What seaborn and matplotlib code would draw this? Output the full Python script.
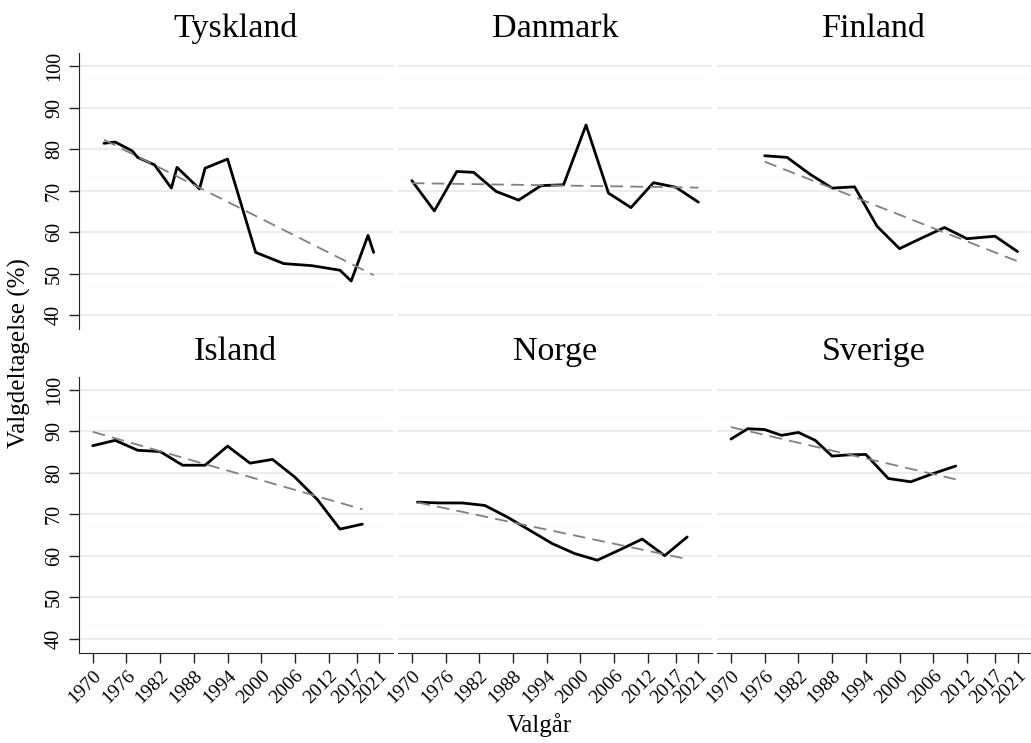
import numpy as np
import pandas as pd
import seaborn as sns
import matplotlib.pyplot as plt

sns.set_style("white")
plt.rcParams["font.family"] = ["Liberation Serif", "DejaVu Serif"]
plt.rcParams["text.color"] = "black"
plt.rcParams["xtick.labelcolor"] = "black"
plt.rcParams["ytick.labelcolor"] = "black"

lande = ["Tyskland", "Danmark", "Finland", "Island", "Norge", "Sverige"]

# valgdeltagelse i procent
tyskland_aar = [1972, 1974, 1977, 1978, 1981, 1984, 1985, 1989, 1990, 1994,
                1999, 2004, 2009, 2014, 2016, 2019, 2020]
tyskland_pct = [81.4, 81.7, 79.6, 78.0, 76.2, 70.6, 75.6, 70.4, 75.4, 77.6,
                55.1, 52.4, 51.9, 50.8, 48.2, 59.2, 55.1]

danmark_aar = [1970, 1974, 1978, 1981, 1985, 1989, 1993, 1997, 2001, 2005,
               2009, 2013, 2017, 2021]
danmark_pct = [72.4, 65.1, 74.6, 74.4, 69.8, 67.7, 71.2, 71.4, 85.8, 69.4,
               65.9, 71.9, 70.8, 67.2]

finland_aar = [1976, 1980, 1984, 1988, 1992, 1996, 2000, 2004, 2008, 2012,
               2017, 2021]
finland_pct = [78.4, 78.0, 74.0, 70.6, 70.9, 61.4, 56.0, 58.6, 61.1, 58.4,
               59.0, 55.3]

island_aar = [1970, 1974, 1978, 1982, 1986, 1990, 1994, 1998, 2002, 2006,
              2010, 2014, 2018]
island_pct = [86.5, 87.8, 85.4, 85.1, 81.8, 81.8, 86.4, 82.3, 83.2, 78.9,
              73.5, 66.4, 67.6]

norge_aar = [1971, 1975, 1979, 1983, 1987, 1991, 1995, 1999, 2003, 2007,
             2011, 2015, 2019]
norge_pct = [72.9, 72.7, 72.7, 72.1, 69.3, 66.1, 62.9, 60.5, 58.9, 61.4,
             64.0, 60.0, 64.5]

sverige_aar = [1970, 1973, 1976, 1979, 1982, 1985, 1988, 1991, 1994, 1998,
               2002, 2006, 2010]
sverige_pct = [88.1, 90.6, 90.4, 89.0, 89.7, 87.8, 84.0, 84.3, 84.4, 78.6,
               77.8, 79.8, 81.6]

aar_lister = [tyskland_aar, danmark_aar, finland_aar, island_aar, norge_aar, sverige_aar]
pct_lister = [tyskland_pct, danmark_pct, finland_pct, island_pct, norge_pct, sverige_pct]

df = pd.concat([pd.DataFrame({"land": l, "aar": a, "pct": p})
                for l, a, p in zip(lande, aar_lister, pct_lister)], ignore_index=True)

x_ticks = [1970, 1976, 1982, 1988, 1994, 2000, 2006, 2012, 2017, 2021]
y_ticks = [40, 50, 60, 70, 80, 90, 100]

fig, axes = plt.subplots(2, 3, figsize=(10.31, 7.43), dpi=100, sharex=True, sharey=True)
fig.subplots_adjust(left=0.0763, right=1.0, top=0.9283, bottom=0.1215,
                    wspace=0.016, hspace=0.173)

for i, (ax, land) in enumerate(zip(axes.flat, lande)):
    d = df[df["land"] == land]
    ax.yaxis.grid(True, color="#e6eef2", lw=1.4)
    ax.set_axisbelow(True)
    sns.lineplot(data=d, x="aar", y="pct", color="black", lw=2.0, ax=ax)
    sns.regplot(data=d, x="aar", y="pct", scatter=False, ci=None, ax=ax,
                color="#808080", line_kws=dict(ls=(0, (7, 4)), lw=1.3))
    ax.set_title(land, fontsize=24.5, pad=12, color="black")
    ax.set_xlabel("")
    ax.set_ylabel("")
    ax.set_xlim(1967.5, 2023.4)
    ax.set_ylim(36.6, 103.1)
    ax.set_xticks(x_ticks)
    ax.set_yticks(y_ticks)
    for s in ax.spines.values():
        s.set_visible(False)
    row, col = divmod(i, 3)
    if col == 0:
        ax.spines["left"].set_visible(True)
        ax.spines["left"].set_color("#222222")
        ax.tick_params(axis="y", left=True, length=7, width=1, labelsize=14.5,
                       labelrotation=90, color="#222222")
        for t in ax.get_yticklabels():
            t.set_va("center")
    else:
        ax.tick_params(axis="y", left=False, labelleft=False)
    if row == 1:
        ax.spines["bottom"].set_visible(True)
        ax.spines["bottom"].set_color("#222222")
        ax.tick_params(axis="x", bottom=True, length=7, width=1, labelsize=14,
                       color="#222222")
        ax.set_xticklabels([str(t) for t in x_ticks], rotation=45, ha="right",
                           rotation_mode="anchor")
    else:
        ax.tick_params(axis="x", bottom=False, labelbottom=False)

fig.text(0.523, 0.024, "Valgår", fontsize=18, ha="center", va="center")
fig.text(0.019, 0.525, "Valgdeltagelse (%)", fontsize=18, ha="center", va="center",
         rotation=90)

fig.savefig("out.png", dpi=100)
